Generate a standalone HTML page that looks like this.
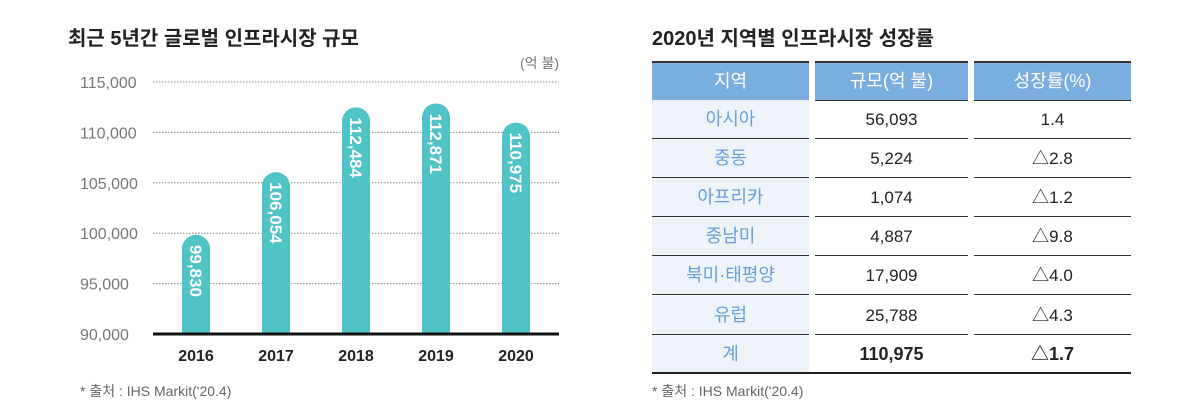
<!DOCTYPE html>
<html><head><meta charset="utf-8"><style>
body{margin:0;width:1200px;height:411px;background:#fff;font-family:"Liberation Sans","Noto Sans CJK KR",sans-serif;position:relative;overflow:hidden}
.t{position:absolute;white-space:nowrap}
.cell{position:absolute;height:39px;line-height:39px;text-align:center;font-size:17px;color:#222}
</style></head><body>
<div class="t" style="left:68px;top:22px;font-size:20px;font-weight:bold;color:#222">최근 5년간 글로벌 인프라시장 규모</div>
<div class="t" style="left:652px;top:22px;font-size:20px;font-weight:bold;color:#222">2020년 지역별 인프라시장 성장률</div>
<svg id="chart" width="600" height="411" style="position:absolute;left:0;top:0"></svg>
<div class="t" style="left:80px;top:381px;font-size:14px;color:#666">* 출처 : IHS Markit('20.4)</div>
<div id="tbl"></div>
<div class="t" style="left:652px;top:381px;font-size:14px;color:#666">* 출처 : IHS Markit('20.4)</div>
<script>
const years=["2016","2017","2018","2019","2020"];
const values=[99830,106054,112484,112871,110975];
const ticks=[90000,95000,100000,105000,110000,115000];
const NS="http://www.w3.org/2000/svg";
const svg=document.getElementById('chart');
const y=v=>334-(v-90000)*252/25000;
const x=i=>196+i*80;
function mk(t,a){const e=document.createElementNS(NS,t);for(const k in a)e.setAttribute(k,a[k]);svg.appendChild(e);return e;}
ticks.forEach(t=>{
  if(t>90000){const l=mk('line',{x1:153,x2:559,y1:y(t),y2:y(t),stroke:'#888','stroke-width':1,'stroke-dasharray':'1.5,1.5'});
  
  }
  const tx=mk('text',{x:80,y:y(t)+6,'font-size':16,fill:'#777','font-family':'Liberation Sans'});
  tx.textContent=t.toLocaleString('en-US');
  
  
});
const unit=mk('text',{x:559,y:68,'font-size':14,fill:'#777','text-anchor':'end','font-family':'Liberation Sans, Noto Sans CJK KR'});
unit.textContent='(억 불)';


values.forEach((v,i)=>{
  const top=y(v),w=28,cx=x(i);
  const p=mk('path',{d:`M${cx-w/2},334 V${top+w/2} A${w/2},${w/2} 0 0 1 ${cx+w/2},${top+w/2} V334 Z`,fill:'#4fc3c6'});
  
  
  const lt=mk('text',{x:0,y:0,'font-size':17,fill:'#fff','font-weight':'bold','transform':`translate(${cx-6},${top+10}) rotate(90)`,'font-family':'Liberation Sans'});
  lt.textContent=v.toLocaleString('en-US');
  
  
  const xl=mk('text',{x:cx,y:361,'font-size':16,'font-weight':'bold',fill:'#222','text-anchor':'middle','font-family':'Liberation Sans'});
  xl.textContent=years[i];
  
  
});
const base=mk('line',{x1:153,x2:559,y1:334,y2:334,stroke:'#111','stroke-width':3});



const regions=["아시아","중동","아프리카","중남미","북미·태평양","유럽","계"];
const sizes=["56,093","5,224","1,074","4,887","17,909","25,788","110,975"];
const growth=["1.4","△2.8","△1.2","△9.8","△4.0","△4.3","△1.7"];
const cols=[[652,157],[815,153],[974,157]];
const tbl=document.getElementById('tbl');
function cell(txt,c,top,style,name){const d=document.createElement('div');d.className='cell';d.textContent=txt;
d.style.cssText+=`left:${cols[c][0]}px;width:${cols[c][1]}px;top:${top}px;`+style;


tbl.appendChild(d);}
["지역","규모(억 불)","성장률(%)"].forEach((h,c)=>cell(h,c,61,'height:37px;line-height:37px;background:#7aaede;color:#fff;font-size:18px;border-top:2px solid #333;border-bottom:1px solid #333;','header-cell'));
regions.forEach((r,i)=>{
  const top=100+i*39.1;
  const last=i==regions.length-1;
  const bb=last?'':'border-bottom:1px solid #333;height:38px;';
  cell(r,0,top,'background:#eef3fa;color:#6a9fd6;font-size:18px;'+bb,'region-cell');
  cell(sizes[i],1,top,bb+(last?'font-weight:bold;font-size:18px;':''),'size-cell');
  cell(growth[i],2,top,bb+(last?'font-weight:bold;font-size:18px;':''),'growth-cell');
});
const bl=document.createElement('div');bl.style.cssText='position:absolute;left:652px;top:372px;width:479px;height:2px;background:#222';


tbl.appendChild(bl);
</script>
</body></html>
